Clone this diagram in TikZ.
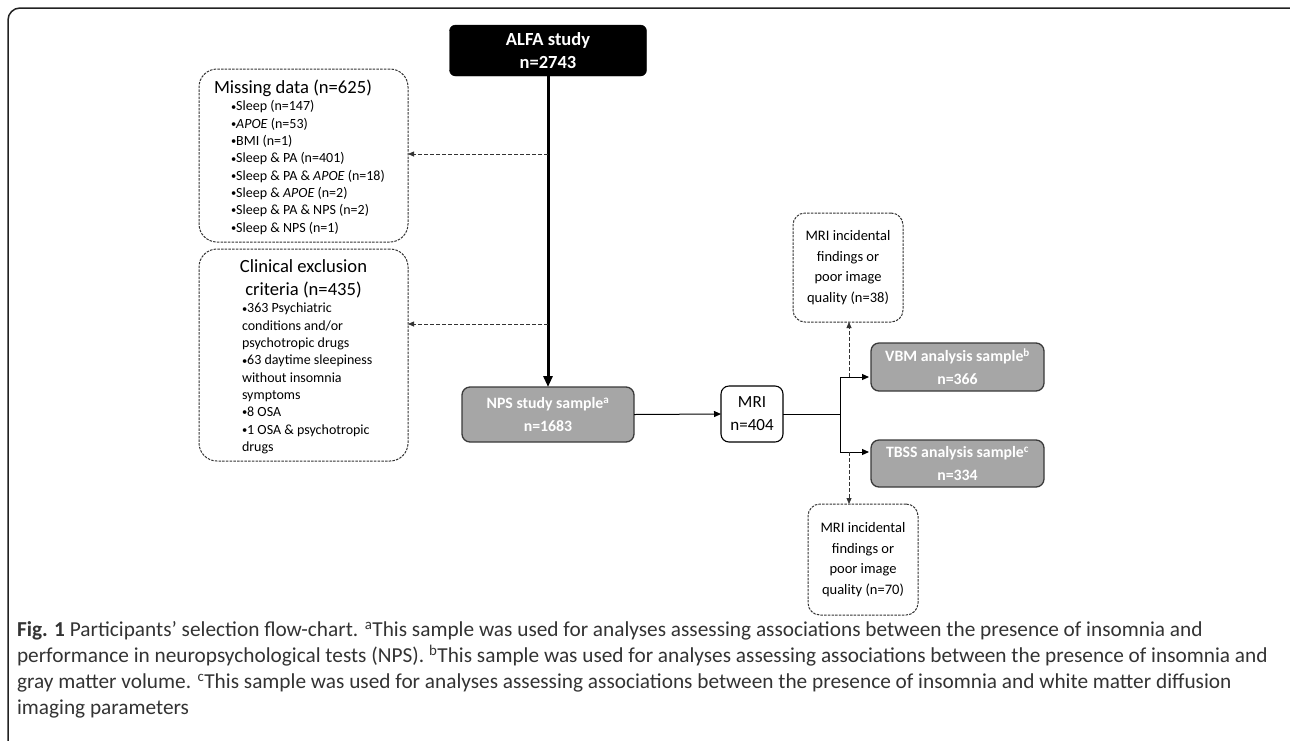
\documentclass[tikz,border=0pt]{standalone}
\usepackage{fontspec}
\usepackage{graphicx}
\setmainfont{Carlito}
\usetikzlibrary{arrows.meta}
\definecolor{boxgray}{HTML}{A6A6A6}
\definecolor{boxedge}{HTML}{3A3A3A}
\definecolor{dashgray}{HTML}{333333}
\definecolor{framegray}{HTML}{222222}
\definecolor{captext}{HTML}{333333}
\newcommand{\bul}{\raisebox{0.12ex}{\scalebox{0.75}{•}}}
\begin{document}
\begin{tikzpicture}[x=1pt,y=-1pt,
  every node/.style={inner sep=0pt, outer sep=0pt},
  solidbox/.style={draw=black, line width=1.1pt, rounded corners=8pt, fill=white, align=center, font=\fontsize{17}{23}\selectfont},
  graybox/.style={draw=boxedge, line width=1.3pt, rounded corners=8pt, fill=boxgray, text=white, align=center, font=\fontsize{15.8}{23}\selectfont\bfseries},
  blackbox/.style={draw=black, fill=black, rounded corners=6pt, text=white, align=center, font=\fontsize{18.5}{23}\selectfont\bfseries},
  dashbox/.style={draw=dashgray, line width=1pt, dash pattern=on 2.5pt off 1.2pt, rounded corners=18pt},
  smalldash/.style={draw=dashgray, line width=1pt, dash pattern=on 2.5pt off 1.2pt, rounded corners=12pt, align=center, font=\fontsize{14.5}{20.5}\selectfont},
  dasharrow/.style={draw=dashgray, line width=0.8pt, dash pattern=on 4pt off 2pt, -{Triangle[length=6pt,width=5pt]}},
  solidarrow/.style={line width=1pt, -{Triangle[length=7pt,width=6pt]}},
  itemtext/.style={anchor=west, align=left, font=\fontsize{14}{17.3}\selectfont},
  titletext/.style={font=\fontsize{18.6}{23}\selectfont},
]
\useasboundingbox (0,0) rectangle (1290,740);
\clip (0,0) rectangle (1290,740);
\draw[line width=1.5pt, draw=framegray, rounded corners=12pt] (8,8) rectangle (1302,752);

% nodes
\node[blackbox, minimum width=197pt, minimum height=51pt] (alfa) at (548,50.5) {ALFA study\\n=2743};
\node[dashbox, minimum width=209pt, minimum height=173pt] (miss) at (303.5,155.5) {};
\node[titletext, anchor=west] (misst) at (214,88) {Missing data (n=625)};
\node[itemtext] (missi) at (231,167.5) {\bul Sleep (n=147)\\\bul\textit{APOE} (n=53)\\\bul BMI (n=1)\\\bul Sleep \& PA (n=401)\\\bul Sleep \& PA \& \textit{APOE} (n=18)\\\bul Sleep \& \textit{APOE} (n=2)\\\bul Sleep \& PA \& NPS (n=2)\\\bul Sleep \& NPS (n=1)};

\node[dashbox, minimum width=209pt, minimum height=212pt] (clin) at (303.5,355) {};
\node[titletext, align=center] (clint) at (303.5,278.5) {Clinical exclusion\\criteria (n=435)};
\node[itemtext] (clini) at (242,378.5) {\bul 363 Psychiatric\\conditions and/or\\psychotropic drugs\\\bul 63 daytime sleepiness\\without insomnia\\symptoms\\\bul 8 OSA\\\bul 1 OSA \& psychotropic\\drugs};

\node[graybox, minimum width=172pt, minimum height=55pt] (nps) at (548,414.5) {NPS study sample\textsuperscript{a}\\n=1683};
\node[solidbox, minimum width=62pt, minimum height=56pt] (mri) at (752,414) {MRI\\n=404};
\node[graybox, minimum width=173pt, minimum height=48pt] (vbm) at (957.5,367) {VBM analysis sample\textsuperscript{b}\\n=366};
\node[graybox, minimum width=173pt, minimum height=47pt] (tbss) at (957.5,463.5) {TBSS analysis sample\textsuperscript{c}\\n=334};
\node[smalldash, minimum width=110pt, minimum height=109pt] (inctop) at (848,267.5) {MRI incidental\\findings or\\poor image\\quality (n=38)};
\node[smalldash, minimum width=110pt, minimum height=111pt] (incbot) at (863,559.5) {MRI incidental\\findings or\\poor image\\quality (n=70)};

% connectors
\draw[line width=3pt, -{Triangle[length=11pt,width=9pt]}] (alfa.south) -- (nps.north);
\coordinate (j1) at (548,154);
\coordinate (j2) at (548,324);
\draw[dasharrow] (j1) -- (j1 -| miss.east);
\draw[dasharrow] (j2) -- (j2 -| clin.east);
\draw[solidarrow] (nps.east) -- (mri.west);
\coordinate (br) at (840,414);
\coordinate (bt) at (840,377);
\coordinate (bb) at (840,452);
\draw[line width=1pt] (mri.east) -- (br);
\draw[line width=1pt] (bt) -- (bb);
\draw[solidarrow, shorten >=2pt] (bt) -- (bt -| vbm.west);
\draw[solidarrow, shorten >=2pt] (bb) -- (bb -| tbss.west);
\coordinate (ut) at (849,377);
\coordinate (dt) at (849,452);
\draw[dasharrow] (ut) -- (ut |- inctop.south);
\draw[dasharrow] (dt) -- (dt |- incbot.north);

% caption
\node[anchor=west, align=left, text=captext, font=\fontsize{21.3}{26}\selectfont] (cap) at (17,670) {\textbf{Fig. 1} Participants’ selection flow-chart. \textsuperscript{a}This sample was used for analyses assessing associations between the presence of insomnia and\\performance in neuropsychological tests (NPS). \textsuperscript{b}This sample was used for analyses assessing associations between the presence of insomnia and\\gray matter volume. \textsuperscript{c}This sample was used for analyses assessing associations between the presence of insomnia and white matter diffusion\\imaging parameters};
\end{tikzpicture}
\end{document}
